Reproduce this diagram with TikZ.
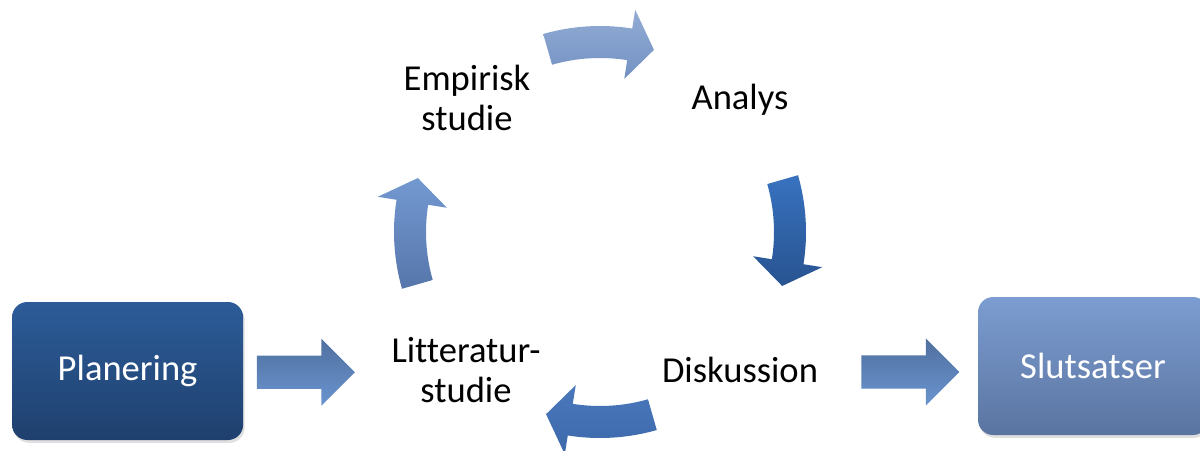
\documentclass[tikz,border=0pt]{standalone}
\usepackage{fontspec}
\setmainfont{Carlito}[Ligatures=NoCommon]
\usetikzlibrary{positioning}
\usetikzlibrary{calc}
\usetikzlibrary{shapes.arrows}
\usetikzlibrary{shadows}
\def\cycrad{4.75}
\def\shaftw{0.4}
\def\headw{0.875}
\definecolor{planTop}{HTML}{2C5C98}
\definecolor{planBot}{HTML}{1F406E}
\definecolor{slutTop}{HTML}{7C9DD1}
\definecolor{slutBot}{HTML}{5A74A0}
\definecolor{arrTop}{HTML}{50709F}
\definecolor{arrBot}{HTML}{6A94CF}
\definecolor{cycAtop}{HTML}{93ACD4}
\definecolor{cycAbot}{HTML}{7291C3}
\definecolor{cycBtop}{HTML}{3872BF}
\definecolor{cycBbot}{HTML}{285390}
\definecolor{cycCtop}{HTML}{4A78BC}
\definecolor{cycCbot}{HTML}{3D69AA}
\definecolor{cycDtop}{HTML}{7399D1}
\definecolor{cycDbot}{HTML}{5676AB}

\begin{document}
\begin{tikzpicture}[font=\fontsize{26}{28.5}\selectfont]
        \tikzstyle{box}=[rounded corners=0.38cm, minimum height=3.45cm, text=white,
                drop shadow={shadow xshift=0.04cm, shadow yshift=-0.07cm, opacity=0.25}]
        \tikzstyle{plan box}=[box, minimum width=5.775cm, top color=planTop, bottom color=planBot];
        \tikzstyle{slut box}=[box, minimum width=5.75cm, top color=slutTop, bottom color=slutBot];
        \tikzstyle{phase}=[align=center, inner sep=0pt];
        \tikzstyle{fat arrow}=[single arrow, inner xsep=0pt, inner ysep=0.41cm,
                minimum height=2.45cm, single arrow head extend=0.42cm,
                top color=arrTop, bottom color=arrBot]

        \useasboundingbox (0,0) rectangle (30,11.25);
        \clip (0,0) rectangle (30,11.25);

        % Draw the boxes at both ends
        \node[plan box] (plan) at (3.19,1.975) {Planering};
        \node[slut box] (slut) at (27.325,2.1) {Slutsatser};

        % Draw the phases of the cycle
        \coordinate (mid) at (15,5.45);
        \node[phase] (lit) at (11.65,2.0) {Litteratur-\\studie};
        \node[phase] (emp) at (11.675,8.8) {Empirisk\\studie};
        \node[phase] (ana) at (18.5,8.75) {Analys};
        \node[phase] (dis) at (18.5,2.0) {Diskussion};

        % Arrows into and out of the cycle
        \node[fat arrow, right=0.33cm of plan, yshift=-0.03cm] (in) {};
        \node[fat arrow, left=0.45cm of slut, yshift=-0.15cm] (out) {};

        % Curved arrows between the phases
        \foreach \c/\ctop/\cbot in {90/cycAtop/cycAbot, 0/cycBtop/cycBbot,
                                    -90/cycCtop/cycCbot, 180/cycDtop/cycDbot}
            \shade[top color=\ctop, bottom color=\cbot]
                ($(mid)+({\c+16}:{\cycrad+\shaftw})$)
                arc[start angle={\c+16}, end angle={\c-9}, radius={\cycrad+\shaftw}]
                -- ($(mid)+({\c-9}:{\cycrad+\headw})$)
                -- ($(mid)+({\c-16.5}:\cycrad)$)
                -- ($(mid)+({\c-9}:{\cycrad-\headw})$)
                -- ($(mid)+({\c-9}:{\cycrad-\shaftw})$)
                arc[start angle={\c-9}, end angle={\c+16}, radius={\cycrad-\shaftw}]
                -- cycle;

\end{tikzpicture}
\end{document}
